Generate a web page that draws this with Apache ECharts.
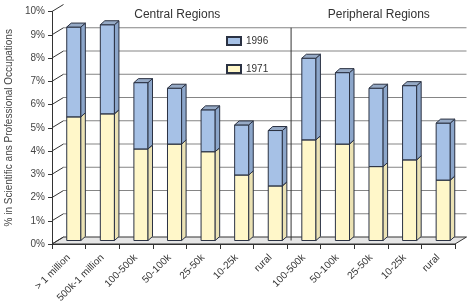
<!DOCTYPE html>
<html>
<head>
<meta charset="utf-8">
<script src="https://cdn.jsdelivr.net/npm/echarts@6/dist/echarts.min.js"></script>
<style>
  html, body { margin: 0; padding: 0; background: #fff; }
  #chart { width: 471px; height: 306px; }
</style>
</head>
<body>
<div id="chart"></div>
<script>
// city size classes, first 7 central regions, last 5 peripheral regions
const citySizes = ['> 1 million', '500k-1 million', '100-500k', '50-100k', '25-50k', '10-25k', 'rural',
  '100-500k', '50-100k', '25-50k', '10-25k', 'rural'];
const share1971 = [5.32, 5.45, 3.94, 4.15, 3.82, 2.82, 2.35, 4.33, 4.15, 3.18, 3.47, 2.60];
const share1996 = [9.18, 9.28, 6.79, 6.55, 5.62, 4.97, 4.73, 7.84, 7.22, 6.55, 6.66, 5.05];
const regionNames = ['Central Regions', 'Peripheral Regions'];
const centralCount = 7;
const wallLevels = [0, 1, 2, 3, 4, 5, 6, 7, 8, 9];
const yTicks = [0, 1, 2, 3, 4, 5, 6, 7, 8, 9, 10];

const chart = echarts.init(document.getElementById('chart'));

// fake 3d depth
const wallDx = 11.5, wallDy = -7;
const barOx = 5, barOy = -3.5;
const barDx = 4.5, barDy = -4;
const edge = '#2b3243';

const blue = { front: '#a6c1e6', side: '#8ca6ca', top: '#96aac6' };
const yellow = { front: '#fff7c9', side: '#ebe2b4', top: '#f3ebc0' };

const renderDecor = (params, api) => {
  const bw = api.size([1, 0])[0];
  const L = api.coord([0, 0])[0] - bw / 2;
  const R = api.coord([citySizes.length - 1, 0])[0] + bw / 2;
  const y = (v) => api.coord([0, v])[1];
  const y0 = y(0);
  const kids = [];
  // floor
  kids.push({
    type: 'polygon',
    shape: { points: [[L, y0], [R, y0], [R + wallDx, y0 + wallDy], [L + wallDx, y0 + wallDy]] },
    style: { fill: '#e6e6e6', stroke: '#333', lineWidth: 1 }
  });
  // back wall lines
  wallLevels.forEach(v => {
    if (v === 0) return;
    kids.push({
      type: 'line',
      shape: { x1: L + wallDx, y1: y(v) + wallDy, x2: R + wallDx, y2: y(v) + wallDy },
      style: { stroke: '#858585', lineWidth: 1 }
    });
  });
  // left wall diagonals
  yTicks.forEach(v => {
    kids.push({
      type: 'line',
      shape: { x1: L, y1: y(v), x2: L + wallDx, y2: y(v) + wallDy },
      style: { stroke: '#333', lineWidth: 1 }
    });
  });
  // region divider
  const divX = api.coord([centralCount - 1, 0])[0] + bw / 2 + barOx - 1;
  const topY = y(wallLevels[wallLevels.length - 1]) + wallDy;
  kids.push({
    type: 'line',
    shape: { x1: divX, y1: topY, x2: divX, y2: y0 + barOy },
    style: { stroke: '#333', lineWidth: 1 }
  });
  // region titles
  const centers = [(L + wallDx + divX) / 2, (divX + R + wallDx) / 2];
  regionNames.forEach((name, k) => {
    kids.push({
      type: 'text',
      style: {
        x: centers[k], y: topY - 13, text: name, fill: '#333',
        font: '12px "Liberation Sans", Arial, sans-serif', align: 'center', verticalAlign: 'middle'
      }
    });
  });
  return { type: 'group', children: kids };
};

const makeBarRenderer = (colors) => (params, api) => {
  const i = api.value(0);
  const lo = api.coord([i, api.value(1)]);
  const hi = api.coord([i, api.value(2)]);
  const w = api.size([1, 0])[0] * 0.42;
  const x0 = lo[0] - w / 2 + barOx;
  const x1 = x0 + w;
  const yb = lo[1] + barOy;
  const yt = hi[1] + barOy;
  return {
    type: 'group',
    children: [
      {
        type: 'rect',
        shape: { x: x0, y: yt, width: w, height: yb - yt },
        style: { fill: colors.front, stroke: edge, lineWidth: 1 }
      },
      {
        type: 'polygon',
        shape: { points: [[x1, yb], [x1, yt], [x1 + barDx, yt + barDy], [x1 + barDx, yb + barDy]] },
        style: { fill: colors.side, stroke: edge, lineWidth: 1 }
      },
      {
        type: 'polygon',
        shape: { points: [[x0, yt], [x1, yt], [x1 + barDx, yt + barDy], [x0 + barDx, yt + barDy]] },
        style: { fill: colors.top, stroke: edge, lineWidth: 1 }
      }
    ]
  };
};

const data1971 = citySizes.map((c, i) => [i, 0, share1971[i]]);
const data1996 = citySizes.map((c, i) => [i, share1971[i], share1996[i]]);

const option = {
  animation: false,
  textStyle: { fontFamily: '"Liberation Sans", Arial, sans-serif' },
  legend: {
    data: ['1996', '1971'],
    orient: 'vertical',
    left: 221,
    top: 31,
    itemWidth: 14,
    itemHeight: 8,
    itemGap: 18,
    icon: 'rect',
    textStyle: { fontSize: 10, color: '#333' },
    selectedMode: false
  },
  grid: {
    left: 52,
    top: 11.5,
    right: 16,
    bottom: 62,
    containLabel: false,
    outerBoundsMode: 'none'
  },
  xAxis: {
    type: 'category',
    data: citySizes,
    name: 'City Size: k = 1,000',
    nameLocation: 'middle',
    nameGap: 54,
    nameTextStyle: { fontSize: 12, color: '#333' },
    axisLine: { lineStyle: { color: '#333' } },
    axisTick: { show: true, length: 5, lineStyle: { color: '#333' } },
    axisLabel: { rotate: 45, fontSize: 10, color: '#333', margin: 12, interval: 0 },
    splitLine: { show: false }
  },
  yAxis: {
    type: 'value',
    min: 0,
    max: 10,
    interval: 1,
    name: '% in Scientific ans Professional Occupations',
    nameLocation: 'middle',
    nameGap: 38,
    nameRotate: 90,
    nameTextStyle: { fontSize: 10, color: '#444' },
    axisLine: { show: true, lineStyle: { color: '#333' } },
    axisTick: { show: true, length: 4, lineStyle: { color: '#333' } },
    axisLabel: { formatter: '{value}%', fontSize: 10, color: '#444', margin: 7 },
    splitLine: { show: false }
  },
  series: [
    {
      type: 'custom',
      name: 'decor',
      silent: true,
      z: 1,
      renderItem: renderDecor,
      data: [[0, 0]]
    },
    {
      type: 'custom',
      name: '1971',
      z: 2,
      itemStyle: { color: yellow.front, borderColor: edge, borderWidth: 1 },
      renderItem: makeBarRenderer(yellow),
      data: data1971
    },
    {
      type: 'custom',
      name: '1996',
      z: 3,
      itemStyle: { color: blue.front, borderColor: edge, borderWidth: 1 },
      renderItem: makeBarRenderer(blue),
      data: data1996
    }
  ]
};

chart.setOption(option);
</script>
</body>
</html>
